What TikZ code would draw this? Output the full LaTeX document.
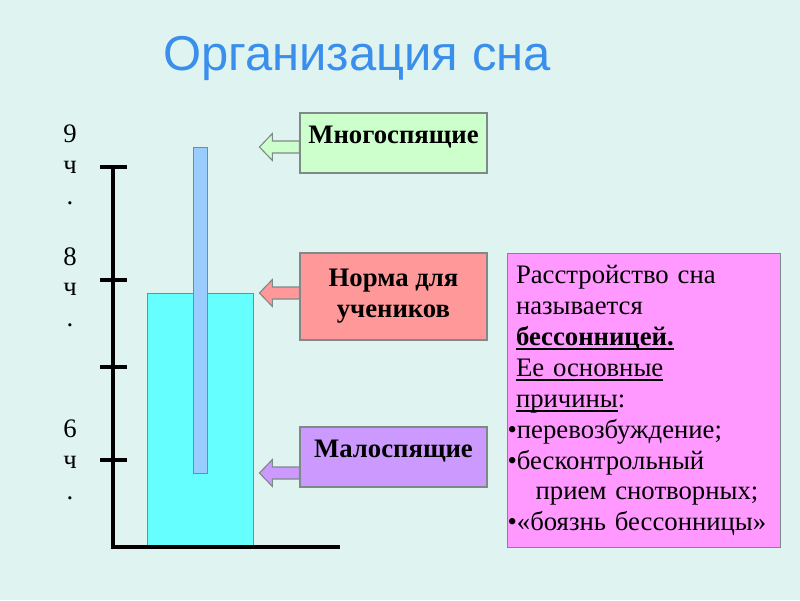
\documentclass[tikz,border=0pt]{standalone}
\usepackage{fontspec}
\setmainfont{Liberation Serif}
\setsansfont{Liberation Sans}
\usetikzlibrary{positioning,calc}
\definecolor{slidebg}{HTML}{DFF4F0}
\definecolor{titleblue}{HTML}{3A8EEC}
\definecolor{edge}{HTML}{7F8A88}
\definecolor{manyfill}{HTML}{CCFFCC}
\definecolor{normfill}{HTML}{FF9999}
\definecolor{fewfill}{HTML}{CC99FF}
\definecolor{infofill}{HTML}{FF99FF}
\definecolor{cupfill}{HTML}{66FFFF}
\definecolor{barfill}{HTML}{99CCFF}
\newsavebox\ulsave
\newcommand\ulbar[1]{\leavevmode\sbox\ulsave{#1}%
  \rlap{\rule[-3.2pt]{\wd\ulsave}{1.1pt}}\usebox\ulsave}

\begin{document}
\begin{tikzpicture}[
  x=0.025cm, y=-0.025cm,
  axis/.style={line width=3.2pt},
  tagbox/.style={draw=edge, line width=0.8pt, minimum width=4.675cm,
                 font=\fontsize{19pt}{22pt}\selectfont\bfseries, align=center},
  oneline/.style={minimum height=1.5cm, text height=9pt, text depth=9pt},
  hours/.style={font=\fontsize{19pt}{22pt}\selectfont, align=center,
                anchor=north, inner sep=0pt},
  blockarrow/.style={draw=edge, line width=0.8pt},
]
  \fill[slidebg] (0,0) rectangle (800,600);
  \node[font=\sffamily\fontsize{34.8pt}{40pt}\selectfont, text=titleblue, anchor=base]
    (title) at (357,70) {Организация сна};

  \node[hours] (h9) at (70,125) {9\\ч\\.};
  \node[hours] (h8) at (70,247) {8\\ч\\.};
  \node[hours] (h6) at (70,420) {6\\ч\\.};

  \filldraw[fill=cupfill, draw=edge, line width=0.6pt] (147,293) rectangle (253,547);
  \filldraw[fill=barfill, draw=edge, line width=0.6pt] (193,147) rectangle (207,473);
  \draw[axis] (113,167) -- (113,547) -- (340,547);
  \foreach \y in {167,280,367,460}
    \draw[axis] (100,\y) -- (127,\y);

  \coordinate (longtop) at (207,147);
  \coordinate (normtop) at (253,293);
  \coordinate (longend) at (207,473);

  \node[tagbox, oneline, fill=manyfill] (many) at (393.5,143) {Многоспящие};
  \node[tagbox, fill=normfill, minimum height=2.175cm] (norm) at (393.5,296.5) {Норма для\\учеников};
  \node[tagbox, oneline, fill=fewfill] (few) at (393.5,457) {Малоспящие};

  \foreach \src/\tgt/\clr in {many/longtop/manyfill, norm/normtop/normfill, few/longend/fewfill}
    \filldraw[blockarrow, fill=\clr] (\src.west |- \tgt) ++(0,-6) -- ++(-27,0) -- ++(0,-7.5)
      -- ++(-13,13.5) -- ++(13,13.5) -- ++(0,-7.5) -- ++(27,0) -- cycle;

  \node[draw=edge, line width=0.8pt, fill=infofill, anchor=north west,
        text width=6.825cm, minimum height=7.35cm, inner xsep=0pt, inner ysep=0pt,
        align=left, font=\fontsize{19pt}{22pt}\selectfont]
    (insomnia) at (507,253) {%
    \hspace*{6pt}Расстройство сна\\
    \hspace*{6pt}называется\\
    \hspace*{6pt}\ulbar{\textbf{бессонницей.}}\\
    \hspace*{6pt}\ulbar{Ее основные}\\
    \hspace*{6pt}\ulbar{причины}:\\
    •перевозбуждение;\\
    •бесконтрольный\\
    \hspace*{20pt}прием снотворных;\\
    •«боязнь бессонницы»};
\end{tikzpicture}
\end{document}
